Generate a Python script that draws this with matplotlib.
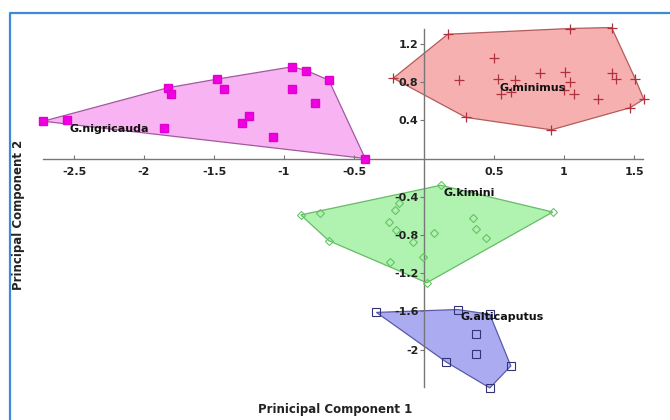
import numpy as np
import matplotlib
matplotlib.use("Agg")
import matplotlib.pyplot as plt
from matplotlib.lines import Line2D

# scores
nigricauda_x = [-2.72, -2.55, -1.86, -1.83, -1.81, -1.48, -1.43, -1.30, -1.25, -1.08,
                -0.94, -0.94, -0.84, -0.78, -0.68, -0.42]
nigricauda_y = [0.39, 0.40, 0.32, 0.74, 0.68, 0.83, 0.73, 0.37, 0.44, 0.23,
                0.96, 0.73, 0.92, 0.58, 0.82, 0.00]

minimus_x = [-0.22, 0.17, 1.04, 1.34, 1.57, 1.47, 0.91, 0.30, 0.25, 0.50, 0.53, 0.55,
             0.62, 0.65, 0.83, 1.00, 1.01, 1.04, 1.07, 1.24, 1.34, 1.37, 1.51]
minimus_y = [0.84, 1.30, 1.36, 1.37, 0.62, 0.53, 0.30, 0.43, 0.82, 1.05, 0.83, 0.68,
             0.70, 0.82, 0.89, 0.72, 0.91, 0.80, 0.68, 0.62, 0.89, 0.83, 0.83]

kimini_x = [-0.88, -0.74, -0.68, -0.25, -0.21, -0.18, -0.20, -0.08, -0.24, -0.01,
            0.02, 0.07, 0.12, 0.35, 0.37, 0.44, 0.92]
kimini_y = [-0.59, -0.57, -0.86, -0.66, -0.54, -0.47, -0.75, -0.87, -1.08, -1.03,
            -1.30, -0.78, -0.28, -0.62, -0.74, -0.83, -0.56]

alticaputus_x = [-0.34, 0.24, 0.47, 0.37, 0.37, 0.16, 0.62, 0.47]
alticaputus_y = [-1.61, -1.58, -1.63, -1.84, -2.05, -2.13, -2.17, -2.40]

x_ticks = [-2.5, -2, -1.5, -1, -0.5, 0.5, 1, 1.5]
y_ticks = [1.2, 0.8, 0.4, -0.4, -0.8, -1.2, -1.6, -2]


def convex_hull(xs, ys):
    pts = sorted(set(zip(xs, ys)))

    def cross(o, a, b):
        return (a[0] - o[0]) * (b[1] - o[1]) - (a[1] - o[1]) * (b[0] - o[0])

    lower, upper = [], []
    for p in pts:
        while len(lower) >= 2 and cross(lower[-2], lower[-1], p) <= 0:
            lower.pop()
        lower.append(p)
    for p in reversed(pts):
        while len(upper) >= 2 and cross(upper[-2], upper[-1], p) <= 0:
            upper.pop()
        upper.append(p)
    return np.array(lower[:-1] + upper[:-1])


groups = [
    # name, xs, ys, fill, edge, marker kwargs, label position
    ("G.nigricauda", nigricauda_x, nigricauda_y, "#f7b3f2", "#a05aa0",
     dict(marker="s", ms=5.5, mfc="#f000e0", mec="#e000d0"), (-2.53, 0.31)),
    ("G.minimus", minimus_x, minimus_y, "#f7b0b0", "#b45a5a",
     dict(marker="+", ms=7, mew=0.9, color="#b0303c"), (0.54, 0.74)),
    ("G.kimini", kimini_x, kimini_y, "#b0f2b0", "#66bb66",
     dict(marker="D", ms=4.5, mfc="none", mec="#66c266", mew=0.8), (0.14, -0.36)),
    ("G.alticaputus", alticaputus_x, alticaputus_y, "#ababf2", "#5a5aaa",
     dict(marker="s", ms=6, mfc="none", mec="#333377", mew=0.8), (0.26, -1.66)),
]

fig = plt.figure(figsize=(6.7, 4.2), dpi=100)
ax = fig.add_axes([11 / 670, 0.0536, 651 / 670, 0.9104])

for name, xs, ys, fill, edge, mk, lab in groups:
    hull = convex_hull(xs, ys)
    ax.fill(hull[:, 0], hull[:, 1], facecolor=fill, edgecolor=edge, lw=0.9, zorder=1)
    ax.plot(xs, ys, ls="none", zorder=3, **mk)
    ax.text(lab[0], lab[1], name, fontsize=8, fontweight="bold", color="#111111",
            ha="left", va="center", zorder=4)

ax.set_xlim(-2.95, 1.7)
ax.set_ylim(-2.5, 1.5)

for side in ["top", "right"]:
    ax.spines[side].set_visible(False)
ax.spines["left"].set_position(("data", 0))
ax.spines["bottom"].set_position(("data", 0))
ax.spines["left"].set_bounds(-2.39, 1.36)
ax.spines["bottom"].set_bounds(-2.72, 1.565)
for side in ["left", "bottom"]:
    ax.spines[side].set_color("#777777")
    ax.spines[side].set_linewidth(1)
    ax.spines[side].set_zorder(2)

ax.set_xticks(x_ticks)
ax.set_xticklabels([f"{t:g}" for t in x_ticks])
ax.set_yticks(y_ticks)
ax.set_yticklabels([f"{t:g}" for t in y_ticks])
ax.tick_params(axis="x", direction="in", length=3, color="#777777", pad=6)
ax.tick_params(axis="y", direction="out", length=3, color="#777777", pad=1)
for lbl in ax.get_xticklabels() + ax.get_yticklabels():
    lbl.set_fontweight("bold")
    lbl.set_fontsize(8)
    lbl.set_color("#222222")
ax.patch.set_alpha(0)

fig.text(335 / 670, 1 - 410 / 420, "Prinicipal Component 1", ha="center", va="center",
         fontsize=8.5, fontweight="bold", color="#222222")
fig.text(19 / 670, 1 - 215 / 420, "Principal Component 2", ha="center", va="center",
         rotation=90, fontsize=8.5, fontweight="bold", color="#222222")

# partial blue frame around the picture
fx, fy = 10 / 670, 1 - 13 / 420
fig.add_artist(Line2D([fx, fx, 1], [0, fy, fy], transform=fig.transFigure,
                      color="#3d8ad6", lw=1.6))

fig.savefig("out.png", dpi=100)
